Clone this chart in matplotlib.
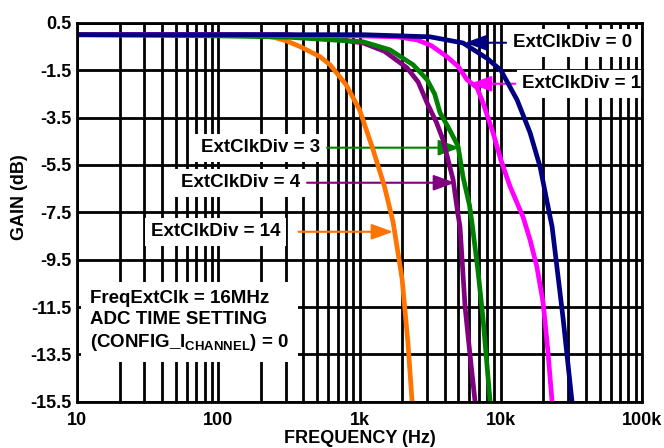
import matplotlib
matplotlib.use("Agg")
import matplotlib.pyplot as plt
from matplotlib.ticker import FixedLocator, LogLocator, NullFormatter

plt.rcParams['font.family'] = ['Liberation Sans', 'DejaVu Sans']
plt.rcParams['font.weight'] = 'bold'
plt.rcParams['mathtext.fontset'] = 'custom'
plt.rcParams['mathtext.rm'] = 'Liberation Sans:bold'
plt.rcParams['mathtext.bf'] = 'Liberation Sans:bold'
plt.rcParams['mathtext.it'] = 'Liberation Sans:bold'

# ---- data ----
freq_div14 = [10, 100, 200, 250, 300, 379, 525, 618, 800, 1000, 1247, 1500, 1726, 2000, 2200, 2355]
gain_div14 = [0, 0, -0.03, -0.12, -0.25, -0.5, -0.93, -1.27, -2.1, -3.17, -4.86, -6.4, -7.9, -10.3, -13.0, -15.5]

freq_div4 = [10, 100, 300, 500, 1060, 1500, 2168, 2600, 3006, 3500, 3898, 4592, 4977, 5141, 5585, 6000, 6574]
gain_div4 = [0, 0, 0, -0.08, -0.35, -0.7, -1.4, -2.0, -2.88, -3.7, -4.44, -6.12, -7.6, -8.1, -11.5, -13.3, -15.5]

freq_div3 = [10, 100, 300, 1060, 1644, 2394, 3006, 3400, 3715, 4236, 4977, 5400, 6000, 6300, 6900, 7486, 8398]
gain_div3 = [0, -0.05, -0.1, -0.3, -0.64, -1.27, -1.9, -2.5, -3.3, -3.9, -4.7, -6.0, -7.2, -8.1, -10.0, -12.0, -15.5]

freq_div1 = [10, 100, 1000, 1841, 2553, 3200, 4160, 5000, 5766, 6790, 7486, 8810, 10000, 11610, 14380, 16110, 18000, 19920, 21500, 23060]
gain_div1 = [0, 0, -0.05, -0.09, -0.22, -0.45, -0.93, -1.35, -1.9, -2.24, -2.88, -4.14, -5.28, -6.4, -7.7, -8.66, -9.8, -11.3, -13.3, -15.5]

freq_div0 = [10, 100, 1060, 3155, 5400, 8000, 10000, 13030, 16110, 18970, 22330, 23060, 27620, 31920]
gain_div0 = [0, 0, 0, -0.09, -0.35, -1.0, -1.5, -2.75, -4.14, -5.58, -7.7, -8.1, -12.0, -15.5]

y_ticks = [0.5, -1.5, -3.5, -5.5, -7.5, -9.5, -11.5, -13.5, -15.5]
y_tick_labels = ['0.5', '-1.5', '-3.5', '-5.5', '-7.5', '-9.5', '-11.5', '-13.5', '-15.5']
x_ticks = [10, 100, 1000, 10000, 100000]
x_tick_labels = ['10', '100', '1k', '10k', '100k']

series = [
    ("ExtClkDiv = 14", freq_div14, gain_div14, '#FF7300'),
    ("ExtClkDiv = 4", freq_div4, gain_div4, '#800080'),
    ("ExtClkDiv = 3", freq_div3, gain_div3, '#008000'),
    ("ExtClkDiv = 1", freq_div1, gain_div1, '#FF00FF'),
    ("ExtClkDiv = 0", freq_div0, gain_div0, '#000080'),
]

# label placement: (text x, text y, arrow tip x, arrow tip y, ha, gap)
label_pos = {
    "ExtClkDiv = 0": (12220, -0.34, 5585, -0.34, 'left', 0),
    "ExtClkDiv = 1": (14200, -2.07, 6050, -2.07, 'left', 0),
    "ExtClkDiv = 3": (525, -4.77, 5141, -4.77, 'right', 0),
    "ExtClkDiv = 4": (379, -6.25, 4745, -6.25, 'right', 0),
    "ExtClkDiv = 14": (275, -8.32, 1726, -8.32, 'right', 8),
}

fig = plt.figure(figsize=(6.64, 4.48), dpi=100)
ax = fig.add_axes([0.116, 0.103, 0.851, 0.846])

ax.set_xscale('log')
ax.set_xlim(10, 100000)
ax.set_ylim(-15.5, 0.5)

for name, f, g, c in series:
    ax.plot(f, g, color=c, lw=3.4, zorder=4, solid_capstyle='butt')

for name, f, g, c in series:
    tx, ty, ax_, ay, ha, gap = label_pos[name]
    ax.annotate(name, xy=(ax_, ay), xytext=(tx, ty), ha=ha, va='center',
                fontsize=13.5, fontweight='bold', zorder=3,
                bbox=dict(boxstyle='square,pad=0.3', fc='white', ec='none'),
                arrowprops=dict(arrowstyle='-|>,head_length=1.1,head_width=0.4',
                                color=c, lw=1.5, mutation_scale=12,
                                shrinkA=1 + gap, shrinkB=0))

ax.text(12.4, -12.1,
        "FreqExtClk = 16MHz\nADC TIME SETTING\n(CONFIG_I$_{\\mathrm{CHANNEL}}$) = 0",
        ha='left', va='center', fontsize=13.5, fontweight='bold', linespacing=1.3,
        zorder=3, bbox=dict(boxstyle='square,pad=0.5', fc='white', ec='none'))

ax.yaxis.set_major_locator(FixedLocator(y_ticks))
ax.set_yticklabels(y_tick_labels)
ax.xaxis.set_major_locator(FixedLocator(x_ticks))
ax.set_xticklabels(x_tick_labels)
ax.xaxis.set_minor_locator(LogLocator(base=10, subs=range(2, 10)))
ax.xaxis.set_minor_formatter(NullFormatter())

ax.grid(True, which='major', axis='both', color='black', lw=2, zorder=1)
ax.grid(True, which='minor', axis='x', color='black', lw=2, zorder=1)
ax.set_axisbelow(True)
ax.tick_params(which='both', length=0, labelsize=13)
ax.tick_params(axis='y', pad=4)
ax.tick_params(axis='x', pad=7)
for s in ax.spines.values():
    s.set_linewidth(2)
    s.set_zorder(5)

ax.set_xlabel("FREQUENCY (Hz)", fontsize=13, fontweight='bold', labelpad=1)
ax.set_ylabel("GAIN (dB)", fontsize=13, fontweight='bold')
ax.yaxis.set_label_coords(-0.087, 0.54)

fig.savefig("out.png", dpi=100)
